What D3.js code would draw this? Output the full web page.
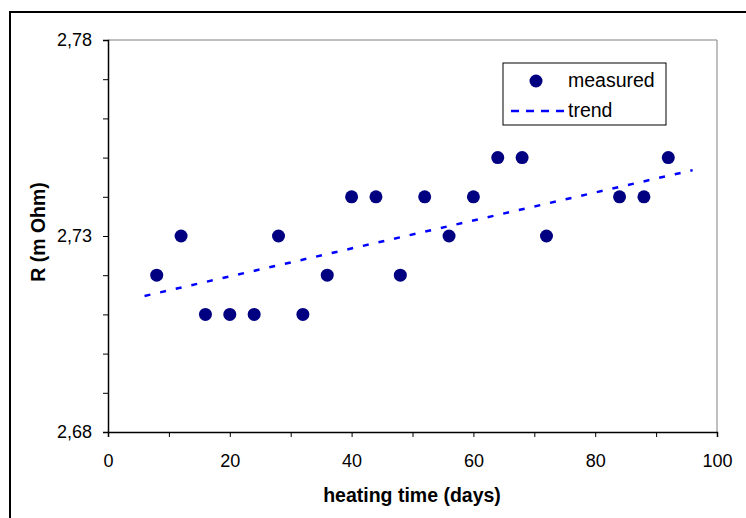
<!DOCTYPE html>
<html>
<head>
<meta charset="utf-8">
<script src="https://cdn.jsdelivr.net/npm/d3@7"></script>
<style>
  body { margin: 0; background: #fff; }
  svg { display: block; font-family: "Liberation Sans", Arial, sans-serif; }
</style>
</head>
<body>
<script>
// measured values
const days = [8, 12, 16, 20, 24, 28, 32, 36, 40, 44, 48, 52, 56, 60, 64, 68, 72, 84, 88, 92];
const resistance = [2.72, 2.73, 2.71, 2.71, 2.71, 2.73, 2.71, 2.72, 2.74, 2.74, 2.72, 2.74, 2.73, 2.74, 2.75, 2.75, 2.73, 2.74, 2.74, 2.75];

// trend line end points
const trendDays = [6, 96];
const trendR = [2.7147, 2.7468];

const xTicks = [0, 20, 40, 60, 80, 100];
const yTicks = [2.68, 2.73, 2.78];

const width = 746, height = 518;
const margin = { left: 108, right: 29, top: 40, bottom: 86 };
const plotW = width - margin.left - margin.right;
const plotH = height - margin.top - margin.bottom;

const locale = d3.formatLocale({ decimal: ',', thousands: '.', grouping: [3], currency: ['', ''] });
const fmtY = locale.format('.2f');

const svg = d3.select('body').append('svg')
  .attr('width', width)
  .attr('height', height);

// outer chart frame
svg.append('rect')
  .attr('x', 10).attr('y', 12)
  .attr('width', 800).attr('height', 600)
  .attr('fill', '#fff')
  .attr('stroke', '#000')
  .attr('stroke-width', 2);

const g = svg.append('g')
  .attr('transform', 'translate(' + margin.left + ',' + margin.top + ')');

const x = d3.scaleLinear().domain([0, 100]).range([0, plotW]);
const y = d3.scaleLinear().domain([2.68, 2.78]).range([plotH, 0]);

// plot area border (top & right, grey)
g.append('path')
  .attr('d', `M0,0H${plotW}V${plotH}`)
  .attr('fill', 'none')
  .attr('stroke', '#808080')
  .attr('stroke-width', 1);

// x axis: minor ticks every 10, labels every 20
const xAxis = g.append('g')
  .attr('transform', 'translate(0,' + plotH + ')')
  .call(d3.axisBottom(x).tickValues(d3.range(0, 101, 10)).tickSize(5)
    .tickFormat(d => xTicks.includes(d) ? d : ''));
xAxis.selectAll('text').attr('font-size', 18).attr('fill', '#000').attr('y', 22);

// y axis: minor ticks every 0.01, labels every 0.05
const yAxis = g.append('g')
  .call(d3.axisLeft(y).tickValues(d3.range(0, 11).map(i => 2.68 + i * 0.01)).tickSize(5)
    .tickFormat(d => yTicks.some(t => Math.abs(t - d) < 1e-9) ? fmtY(d) : ''));
yAxis.selectAll('text').attr('font-size', 18).attr('fill', '#000').attr('x', -16);

[xAxis, yAxis].forEach(a => {
  a.select('.domain').attr('stroke', '#000').attr('stroke-width', 1.5);
  a.selectAll('.tick line').attr('stroke', '#000');
  a.attr('font-family', null).attr('font-size', null);
});

// trend line
g.append('line')
  .attr('x1', x(trendDays[0])).attr('y1', y(trendR[0]))
  .attr('x2', x(trendDays[1])).attr('y2', y(trendR[1]))
  .attr('stroke', '#0000ff')
  .attr('stroke-width', 2.5)
  .attr('stroke-dasharray', '6,10');

// measured points
g.selectAll('circle.pt')
  .data(days.map((d, i) => ({ d, r: resistance[i] })))
  .join('circle')
  .attr('class', 'pt')
  .attr('cx', p => x(p.d))
  .attr('cy', p => y(p.r))
  .attr('r', 6.5)
  .attr('fill', '#000080');

// axis titles
svg.append('text')
  .attr('x', 412)
  .attr('y', 502)
  .attr('text-anchor', 'middle')
  .attr('font-size', 19.5)
  .attr('font-weight', 'bold')
  .text('heating time (days)');

svg.append('text')
  .attr('transform', 'translate(45,' + 232 + ') rotate(-90)')
  .attr('text-anchor', 'middle')
  .attr('font-size', 19.5)
  .attr('font-weight', 'bold')
  .text('R (m Ohm)');

// legend
const legend = svg.append('g').attr('transform', 'translate(503,63)');
legend.append('rect')
  .attr('width', 163).attr('height', 62)
  .attr('fill', '#fff')
  .attr('stroke', '#000')
  .attr('stroke-width', 1);
legend.append('circle')
  .attr('cx', 33).attr('cy', 18).attr('r', 6.5)
  .attr('fill', '#000080');
legend.append('text')
  .attr('x', 65).attr('y', 24)
  .attr('font-size', 19.5)
  .text('measured');
legend.append('line')
  .attr('x1', 8).attr('x2', 62).attr('y1', 48).attr('y2', 48)
  .attr('stroke', '#0000ff')
  .attr('stroke-width', 2.5)
  .attr('stroke-dasharray', '8,7');
legend.append('text')
  .attr('x', 65).attr('y', 54)
  .attr('font-size', 19.5)
  .text('trend');
</script>
</body>
</html>
